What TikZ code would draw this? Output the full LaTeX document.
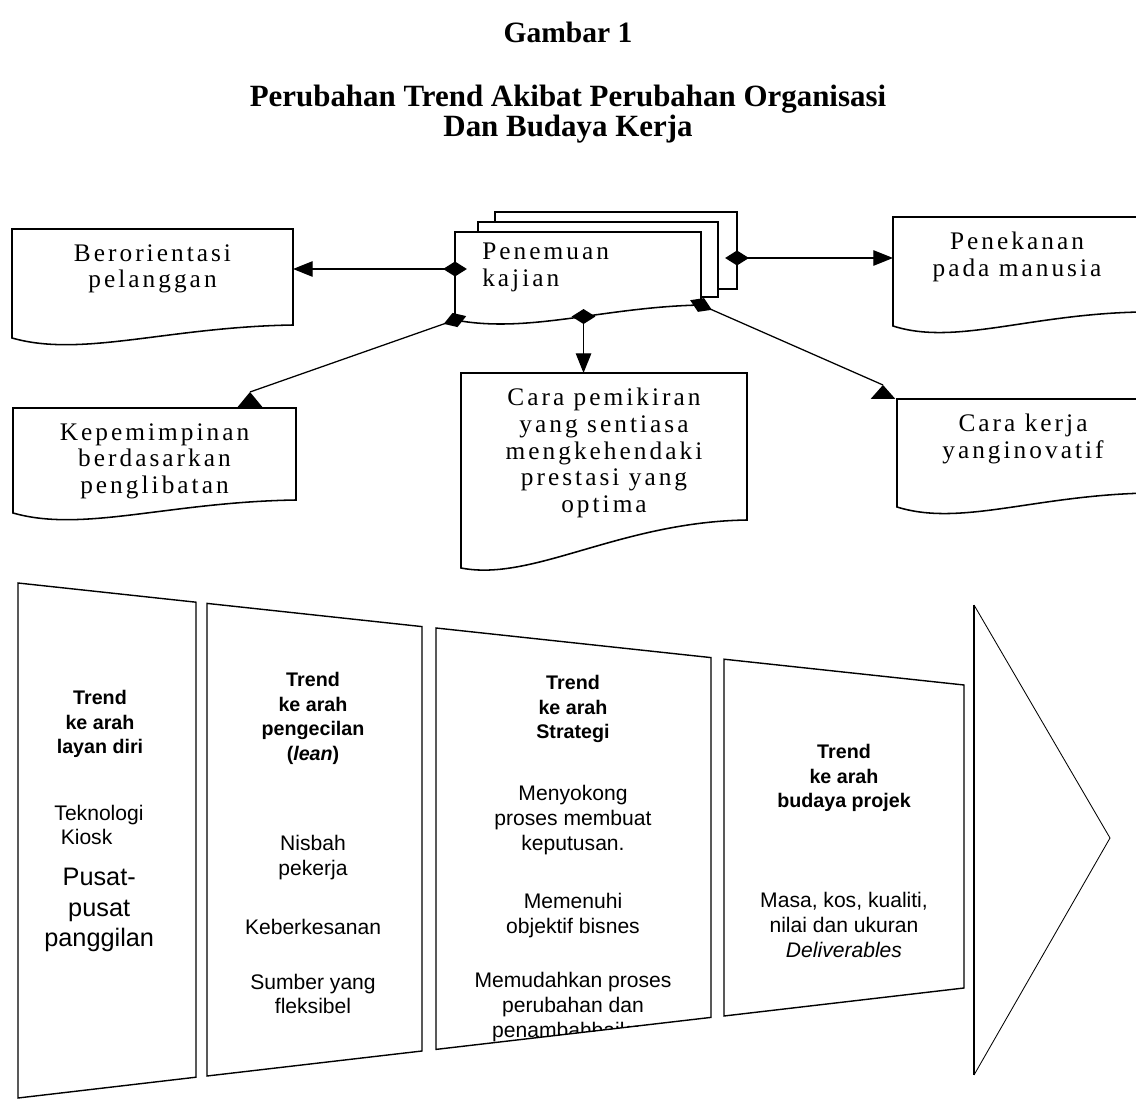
\documentclass[tikz,border=0pt]{standalone}
\usepackage{fontspec}
\setmainfont{Liberation Serif}
\newfontfamily\kotakfont[LetterSpace=12]{Liberation Serif}
\newfontfamily\panelfont{Liberation Sans}
\usetikzlibrary{arrows.meta, positioning, calc, shapes.geometric}

\tikzset{
  docbox/.style={inner sep=0, outer sep=0, anchor=north west},
  docline/.style={draw, line width=1.1pt, fill=white},
  boxtext/.style={align=center, inner sep=0, font=\kotakfont\fontsize{18}{19}\selectfont},
  link/.style={line width=0.9pt, -{Triangle[length=14pt, width=11pt]}},
  dmark/.style={diamond, fill=black, inner sep=0, minimum width=0.6cm, minimum height=0.38cm},
  panel/.style={line width=1pt},
  phead/.style={align=center, inner sep=0, font=\panelfont\bfseries\fontsize{14}{17.5}\selectfont},
  pbody/.style={align=center, inner sep=0, font=\panelfont\fontsize{15}{17.5}\selectfont},
}

\begin{document}
\begin{tikzpicture}
    \path[use as bounding box, fill=white] (0,0) rectangle (28.4,-27.55);
    \clip (0,0) rectangle (28.4,-27.55);
    % Judul
    \node[font=\bfseries\fontsize{21}{18.5}\selectfont] (gambar) at (14.2,-0.8) {Gambar 1};
    \node[font=\bfseries\fontsize{22}{18.5}\selectfont, align=center] (judul) at (14.2,-2.85) {Perubahan Trend Akibat Perubahan Organisasi\\Dan Budaya Kerja};
    % Penemuan kajian (tiga lembar)
    \node[docbox, docline, minimum width=6.05cm, minimum height=1.925cm] (lembar3) at (12.375,-5.3) {};
    \node[docbox, docline, minimum width=6cm, minimum height=1.875cm] (lembar2) at (11.95,-5.55) {};
    \node[docbox, minimum width=6.15cm, minimum height=1.825cm] (temu) at (11.375,-5.8) {};
    \draw[docline] (temu.north west) -- ([yshift=-0.375cm]temu.south west)
        .. controls +(1.85,-0.35) and +(-2.45,-0.05) .. coordinate[pos=0.56] (kaki) (temu.south east)
        -- (temu.north east) -- cycle;
    \node[boxtext, align=left, anchor=north west] (temuT) at (12.05,-6.075) {Penemuan\\kajian};
    % Berorientasi pelanggan
    \node[docbox, minimum width=7.025cm, minimum height=2.4cm] (orient) at (0.3,-5.725) {};
    \draw[docline] (orient.north west) -- ([yshift=-0.325cm]orient.south west)
        .. controls +(1.75,-0.5) and +(-3.15,-0.05) .. (orient.south east)
        -- (orient.north east) -- cycle;
    \node[boxtext, below=0.375cm of orient.north] (orientT) {Berorientasi\\pelanggan};
    % Penekanan pada manusia
    \node[docbox, minimum width=6.2cm, minimum height=2.375cm] (tekan) at (22.325,-5.425) {};
    \draw[docline] (tekan.north west) -- ([yshift=-0.35cm]tekan.south west)
        .. controls +(1.55,-0.5) and +(-2.8,-0.05) .. (tekan.south east)
        -- (tekan.north east) -- cycle;
    \node[boxtext, below=0.375cm of tekan.north] (tekanT) {Penekanan\\pada manusia};
    % Kepemimpinan
    \node[docbox, minimum width=7.075cm, minimum height=2.3cm] (pimpin) at (0.325,-10.2) {};
    \draw[docline] (pimpin.north west) -- ([yshift=-0.325cm]pimpin.south west)
        .. controls +(1.75,-0.5) and +(-3.2,-0.05) .. (pimpin.south east)
        -- (pimpin.north east) -- cycle;
    \node[boxtext, below=0.375cm of pimpin.north] (pimpinT) {Kepemimpinan\\berdasarkan\\penglibatan};
    % Cara pemikiran
    \node[docbox, minimum width=7.15cm, minimum height=3.675cm] (cara) at (11.525,-9.325) {};
    \draw[docline] (cara.north west) -- ([yshift=-1.2cm]cara.south west)
        .. controls +(1.8,-0.35) and +(-3.2,-0.05) .. (cara.south east)
        -- (cara.north east) -- cycle;
    \node[boxtext, below=0.375cm of cara.north] (caraT) {Cara pemikiran\\yang sentiasa\\mengkehendaki\\prestasi yang\\optima};
    % Cara kerja
    \node[docbox, minimum width=6.3cm, minimum height=2.35cm] (inovasi) at (22.425,-9.975) {};
    \draw[docline] (inovasi.north west) -- ([yshift=-0.35cm]inovasi.south west)
        .. controls +(1.6,-0.5) and +(-2.85,-0.05) .. (inovasi.south east)
        -- (inovasi.north east) -- cycle;
    \node[boxtext, below=0.375cm of inovasi.north] (inovasiT) {Cara kerja\\yanginovatif};
    % Penghubung
    \coordinate (kiri) at ([yshift=-0.925cm]temu.north west);
    \draw[link] (kiri) -- (kiri -| orient.east);
    \node[dmark] (kiriM) at (kiri) {};
    \coordinate (kanan) at ([yshift=-1.15cm]lembar3.north east);
    \draw[link] (kanan) -- (kanan -| tekan.west);
    \node[dmark] (kananM) at (kanan) {};
    \draw[link] (kaki) -- (kaki |- cara.north);
    \node[dmark] (kakiM) at (kaki) {};
    \coordinate (sudutkiri) at ([yshift=-0.375cm]temu.south west);
    \coordinate (dtop) at ([xshift=5.925cm]pimpin.north west);
    \coordinate (dapex) at ([yshift=0.4cm]dtop);
    \draw[line width=0.9pt] (sudutkiri) -- (dapex);
    \fill (dapex) -- ([xshift=-0.33cm]dtop) -- ([xshift=0.33cm]dtop) -- cycle;
    \node[dmark, rotate=19] (sudutkiriM) at (sudutkiri) {};
    \coordinate (ftop) at ([xshift=-0.35cm]inovasi.north west);
    \coordinate (fapex) at ([yshift=0.35cm]ftop);
    \draw[line width=0.9pt] (temu.south east) -- (fapex);
    \fill (fapex) -- ([xshift=-0.31cm]ftop) -- ([xshift=0.31cm]ftop) -- cycle;
    \node[dmark, rotate=-24] (sudutkananM) at (temu.south east) {};
    % Panel trend
    \draw[panel] (0.45,-14.575) -- (4.9,-15.055) -- (4.9,-26.93) -- (0.45,-27.45) -- cycle;
    \draw[panel] (5.175,-15.085) -- (10.55,-15.665) -- (10.55,-26.275) -- (5.175,-26.9) -- cycle;
    \draw[panel] (10.9,-15.7) -- (17.775,-16.44) -- (17.775,-25.435) -- (10.9,-26.235) -- cycle;
    \draw[panel] (18.1,-16.48) -- (24.1,-17.125) -- (24.1,-24.7) -- (18.1,-25.4) -- cycle;
    \draw[line width=0.6pt] (24.35,-15.125) -- (27.75,-20.95) -- (24.35,-26.875);
    \draw[panel] (24.35,-15.125) -- (24.35,-26.875);
    % Teks panel 1
    \node[phead] (p1judul) at (2.5,-18.1) {Trend\\ke arah\\layan diri};
    \node[pbody, align=left] (p1a) at (2.475,-20.625) {Teknologi\\\hspace*{0.3em}Kiosk};
    \node[pbody, font=\panelfont\fontsize{18}{21.5}\selectfont] (p1b) at (2.48,-22.75) {Pusat-\\pusat\\panggilan};
    % Teks panel 2
    \node[phead] (p2judul) at (7.825,-17.96) {Trend\\ke arah\\pengecilan\\(\textit{lean})};
    \node[pbody] (p2a) at (7.825,-21.44) {Nisbah\\pekerja};
    \node[pbody] (p2b) at (7.825,-23.175) {Keberkesanan};
    \node[pbody] (p2c) at (7.825,-24.85) {Sumber yang\\fleksibel};
    % Teks panel 3
    \node[phead] (p3judul) at (14.325,-17.725) {Trend\\ke arah\\Strategi};
    \node[pbody] (p3a) at (14.325,-20.5) {Menyokong\\proses membuat\\keputusan.};
    \node[pbody] (p3b) at (14.325,-22.89) {Memenuhi\\objektif bisnes};
    \begin{scope}
      \clip (10.9,-15.7) -- (17.775,-16.44) -- (17.775,-25.435) -- (10.9,-26.235) -- cycle;
      \node[pbody] (p3c) at (14.325,-25.175) {Memudahkan proses\\perubahan dan\\penambahbaikan};
    \end{scope}
    % Teks panel 4
    \node[phead] (p4judul) at (21.1,-19.45) {Trend\\ke arah\\budaya projek};
    \node[pbody] (p4a) at (21.1,-23.125) {Masa, kos, kualiti,\\nilai dan ukuran\\\textit{Deliverables}};
\end{tikzpicture}
\end{document}
